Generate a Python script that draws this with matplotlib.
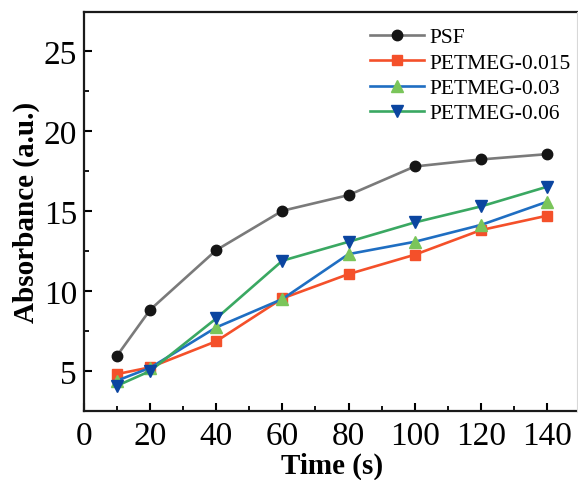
import matplotlib
matplotlib.use("Agg")
import matplotlib.pyplot as plt
from matplotlib.lines import Line2D
from matplotlib.ticker import MultipleLocator

time = [10, 20, 40, 60, 80, 100, 120, 140]
psf = [5.96, 8.83, 12.56, 15.02, 16.0, 17.79, 18.23, 18.56]
petmeg_0015 = [4.81, 5.23, 6.86, 9.54, 11.06, 12.27, 13.81, 14.71]
petmeg_003 = [4.4, 5.2, 7.73, 9.5, 12.31, 13.08, 14.13, 15.58]
petmeg_006 = [4.08, 5.0, 8.29, 11.9, 13.08, 14.29, 15.29, 16.52]

plt.rcParams['font.family'] = ['Liberation Serif', 'DejaVu Serif']

fig = plt.figure(figsize=(5.78, 4.81), dpi=100)
ax = fig.add_axes([84/578, 69/481, 496/578, 399/481])

lw = 1.9
ms = 7.5
ax.plot(time, psf, color='#7a7a7a', lw=lw, marker='o', ms=ms, mfc='#151515', mec='#151515', label='PSF')
ax.plot(time, petmeg_0015, color='#f4502a', lw=lw, marker='s', ms=ms-0.5, mfc='#f4502a', mec='#f4502a', label='PETMEG-0.015')
ax.plot(time, petmeg_003, color='#1f6ec2', lw=lw, marker='^', ms=ms+0.5, mfc='#7ac55a', mec='#7ac55a', label='PETMEG-0.03')
ax.plot(time, petmeg_006, color='#3aa862', lw=lw, marker='v', ms=ms+0.5, mfc='#0b45a0', mec='#0b45a0', label='PETMEG-0.06')

ax.set_xlim(0, 150)
ax.set_ylim(2.5, 27.45)
ax.xaxis.set_major_locator(MultipleLocator(20))
ax.xaxis.set_minor_locator(MultipleLocator(10))
ax.yaxis.set_major_locator(MultipleLocator(5))
ax.yaxis.set_minor_locator(MultipleLocator(2.5))
ax.set_xticks([0, 20, 40, 60, 80, 100, 120, 140])
ax.set_yticks([5, 10, 15, 20, 25])

for s in ['left', 'bottom', 'top']:
    ax.spines[s].set_linewidth(1.6)
    ax.spines[s].set_color('#1a1a1a')
ax.spines['right'].set_visible(False)

ax.tick_params(axis='both', which='major', direction='in', length=6, width=1.5, labelsize=24)
ax.tick_params(axis='x', which='major', pad=7)
ax.tick_params(axis='y', which='major', pad=5)
ax.tick_params(axis='both', which='minor', direction='in', length=3.5, width=1.3)
ax.tick_params(top=False, right=False, which='both')

ax.set_xlabel('Time (s)', fontsize=21, fontweight='bold', labelpad=0)
ax.set_ylabel('Absorbance (a.u.)', fontsize=21, fontweight='bold', labelpad=3)

leg = ax.legend(loc='upper right', bbox_to_anchor=(1.012, 1.0), frameon=False, fontsize=15.5,
                handlelength=2.5, handletextpad=0.25, labelspacing=0.25, borderaxespad=0.3)

fig.add_artist(Line2D([577/578, 577/578], [69/481, 468/481], transform=fig.transFigure,
                      color='#d8d8d8', lw=0.8))

fig.savefig('out.png', dpi=100)
